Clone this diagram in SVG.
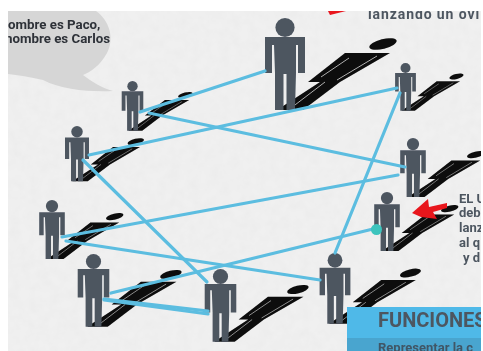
<svg xmlns="http://www.w3.org/2000/svg" width="483" height="351" viewBox="0 0 483 351">
<style>
.c{fill:none;stroke:#5bbde0;stroke-width:3.200;stroke-linecap:round}
.t{font-family:"Roboto","Liberation Sans",sans-serif;font-weight:700}
.b{fill:#4d5661}
.s{fill:#0a0a0a}
.g{stroke:#b0b0b0;stroke-width:1;fill:none}
</style>
<defs>
<clipPath id="page"><rect x="8" y="11" width="473" height="340"/></clipPath>
<filter id="soft" x="-5%" y="-5%" width="110%" height="110%"><feGaussianBlur stdDeviation="0.5"/></filter>
<filter id="paper" x="0" y="0" width="100%" height="100%"><feTurbulence type="fractalNoise" baseFrequency="0.1" numOctaves="3" seed="4"/><feColorMatrix values="0 0 0 0 0.5  0 0 0 0 0.5  0 0 0 0 0.5  0.12 0 0 0 -0.035"/></filter>
<g id="person">
<path class="s" d="M-8 92L35 64H23L60 35H105L55 64L18 92Z"/>
<ellipse class="s" cx="98" cy="26" rx="14" ry="4.800" transform="rotate(-14 98 26)"/>
<path class="g" d="M6 90L40 64M36 59L64 40M52 62L92 38"/>
<circle class="b" cy="9.500" r="9.600"/>
<path class="b" d="M-20 19H20V55H13V27H11V55L10 92H1.500V56H-1.500V92H-10V55L-11 27H-13V55H-20Z"/>
</g>
</defs>
<rect width="483" height="351" fill="#fff"/>
<g clip-path="url(#page)">
<rect x="8" y="11" width="473" height="340" fill="#f0f0f0"/>
<rect x="8" y="11" width="473" height="340" filter="url(#paper)"/>
<g filter="url(#soft)">
<path d="M8 11H96C109 20 115 38 107 53C100 66 90 72 83 75C92 82 102 88 113 91C90 92 62 90 43 80C30 77 18 75 8 74Z" fill="#d6d6d6"/>
<text class="t" x="8" y="29" font-size="13.300" fill="#2d3138">ombre es Paco,</text>
<text class="t" x="5" y="43" font-size="13.300" fill="#2d3138">nombre es Carlos</text>
<path d="M328 11H346L330 15Z" fill="#e8141c"/>
<text class="t" x="368" y="19" font-size="14" letter-spacing="0.900" fill="#4d5661">lanzando un ovi</text>
<g id="nodes">
<g id="n1"><use href="#person" transform="translate(285 18)"/></g>
<g id="n2"><use href="#person" transform="translate(132.500 81) scale(.54)"/></g>
<g id="n3"><use href="#person" transform="translate(77 126) scale(.6)"/></g>
<g id="n4"><use href="#person" transform="translate(405.500 63) scale(.52)"/></g>
<g id="n5"><use href="#person" transform="translate(413 138) scale(.64)"/></g>
<g id="n6"><use href="#person" transform="translate(52 200) scale(.64)"/></g>
<g id="n7"><use href="#person" transform="translate(93.500 254) scale(.79)"/></g>
<g id="n8"><use href="#person" transform="translate(220.500 269) scale(.79)"/></g>
<g id="n9"><use href="#person" transform="translate(387 192) scale(.64)"/></g>
<g id="n10"><use href="#person" transform="translate(335 253) scale(.77)"/></g>
</g>
<g id="connectors">
<path class="c" d="M140 112L265 71"/>
<path class="c" d="M149 113L405 167"/>
<path class="c" d="M89 155L397 88"/>
<path class="c" d="M83 160L207 282"/>
<path class="c" d="M62 237L398 175"/>
<path class="c" d="M66 241L320 280"/>
<path class="c" d="M111 293L373 229"/>
<path class="c" d="M104 299L208 311"/>
<path class="c" d="M104 300L208 314"/>
<path class="c" d="M400 93L335 253"/>
<circle cx="376.500" cy="229.500" r="5.500" fill="#3cc4bd"/>
</g>
<path id="arrow" d="M412 213L428 199L429 207L447 203L447 208L433 212L437 219L421 217Z" fill="#e8141c"/>
<g class="t" font-size="13" fill="#4d5661">
<text x="459" y="202.500">EL U</text>
<text x="459" y="217">deb</text>
<text x="459" y="231.500">lanz</text>
<text x="459" y="247">al q</text>
<text x="463" y="262">y d</text>
</g>
<g id="box">
<rect x="347" y="307" width="134" height="31" fill="#4fb9e8"/>
<rect x="347" y="338" width="134" height="13" fill="#4aa5cf"/>
<text class="t" x="378" y="327" font-size="20" fill="#4d5661">FUNCIONES</text>
<text class="t" x="378" y="352" font-size="13" fill="#3f5666">Representar la c</text>
</g>
</g>
</g>
</svg>
